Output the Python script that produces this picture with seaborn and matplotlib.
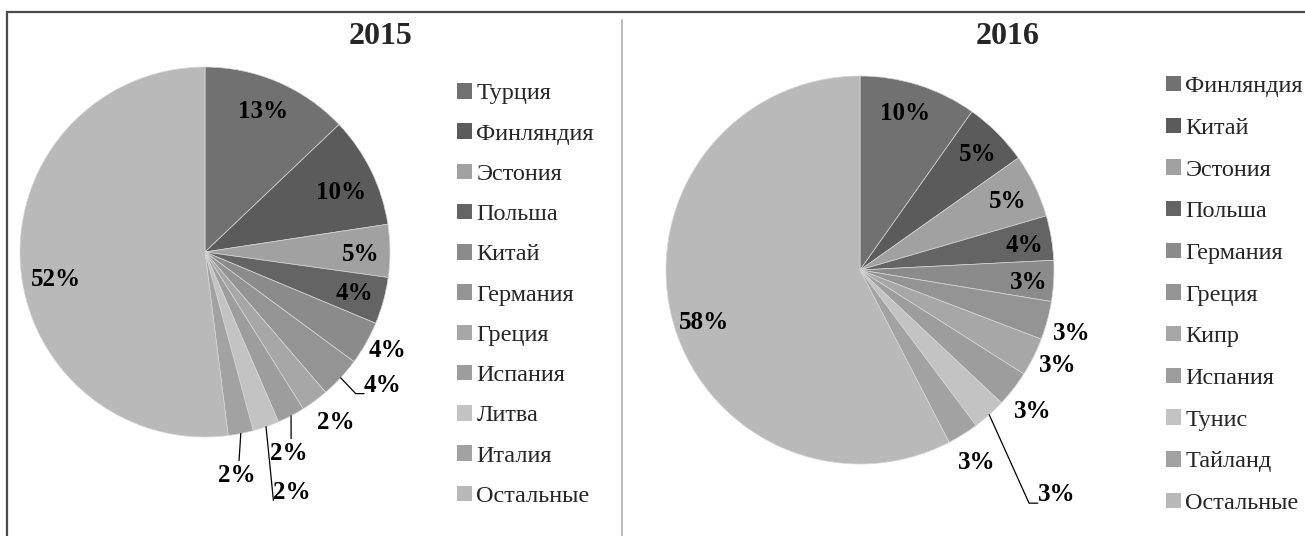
import numpy as np
import matplotlib.pyplot as plt
from matplotlib.lines import Line2D
from matplotlib.patches import Patch
import seaborn as sns

# доли стран, %
countries_2015 = ['Турция', 'Финляндия', 'Эстония', 'Польша', 'Китай', 'Германия',
                  'Греция', 'Испания', 'Литва', 'Италия', 'Остальные']
shares_2015 = [12.9, 9.7, 4.6, 4.1, 3.8, 3.6, 2.4, 2.4, 2.3, 2.2, 52.0]

countries_2016 = ['Финляндия', 'Китай', 'Эстония', 'Польша', 'Германия', 'Греция',
                  'Кипр', 'Испания', 'Тунис', 'Тайланд', 'Остальные']
shares_2016 = [9.8, 5.4, 5.3, 3.7, 3.4, 3.2, 3.2, 3.0, 2.8, 2.6, 57.6]

years = ['2015', '2016']

greys = ['#717171', '#5b5b5b', '#a1a1a1', '#646464', '#8b8b8b', '#949494',
         '#a7a7a7', '#9d9d9d', '#c3c3c3', '#a2a2a2', '#b9b9b9']

# расположение подписей: угол (по часовой от верха), радиус, выноска
lab_2015 = [(22.5, .82, None), (66.4, .80, None), (91, .84, None), (105.3, .84, None),
            (118.3, 1.12, None), (126.9, 1.20, 'elbow'), (142.6, 1.16, None),
            (157.3, 1.18, 'top'), (160.1, 1.38, 'side'), (171.8, 1.22, 'top'),
            (259.4, .82, None)]
lab_2016 = [(16, .84, None), (45.5, .85, None), (65.3, .84, None), (81.4, .86, None),
            (94.1, .87, None), (106.6, 1.14, None), (115.7, 1.13, None),
            (129.4, 1.15, None), (138.7, 1.54, 'elbow'), (148.6, 1.16, None),
            (251.6, .85, None)]

sns.set_theme(style='white')
plt.rcParams['font.family'] = ['Liberation Serif', 'DejaVu Serif']

W, H = 1305, 536
fig = plt.figure(figsize=(W / 100, H / 100), dpi=100)
pal = sns.color_palette(greys)


def draw_pie(cx, cy, r, shares, names, layout, year, title_x, legend_x, spacing):
    ax = fig.add_axes([(cx - r) / W, (H - cy - r) / H, 2 * r / W, 2 * r / H])
    wedges, _ = ax.pie(shares, colors=pal, startangle=90, counterclock=False,
                       wedgeprops=dict(edgecolor='#d6d6d6', linewidth=0.5))
    ax.set_xlim(-1, 1)
    ax.set_ylim(-1, 1)
    ax.set_aspect('equal')
    ax.axis('off')
    total = sum(shares)
    for w, v, (ang, rad, lead) in zip(wedges, shares, layout):
        a = np.deg2rad(ang)
        lx, ly = rad * np.sin(a), rad * np.cos(a)
        ax.text(lx, ly, f'{round(v / total * 100)}%', ha='center', va='center',
                fontsize=18, fontweight='bold', color='black', clip_on=False)
        if lead:
            m = np.deg2rad((w.theta1 + w.theta2) / 2)
            sx, sy = np.cos(m), np.sin(m)
            if lead == 'top':
                xs, ys = [sx, lx + 0.01], [sy, ly + 0.08]
            elif lead == 'side':
                xs, ys = [sx, lx - 0.10], [sy, ly - 0.045]
            else:
                ex, ey = lx - 0.10, ly - 0.045
                xs, ys = [sx, ex - 0.045, ex], [sy, ey, ey]
            ax.plot(xs, ys, color='black', lw=0.9, clip_on=False)
    fig.text(title_x / W, 1 - 36 / H, year, ha='center', va='center',
             fontsize=23, fontweight='bold')
    handles = [Patch(facecolor=c, edgecolor='none') for c in pal]
    fig.legend(handles, names, loc='center left',
               bbox_to_anchor=(legend_x / W, 1 - 295 / H),
               bbox_transform=fig.transFigure, frameon=False, fontsize=17.5,
               handlelength=0.6, handleheight=0.6, handletextpad=0.2,
               labelspacing=spacing, borderpad=0, borderaxespad=0)


draw_pie(205, 252, 185, shares_2015, countries_2015, lab_2015, years[0], 380, 457, 0.78)
draw_pie(860, 270, 194, shares_2016, countries_2016, lab_2016, years[1], 1008, 1166, 0.84)

# рамка и разделитель
fig.add_artist(Line2D([7 / W, 1], [1 - 12 / H, 1 - 12 / H], color='#4a4a4a', lw=1.6))
fig.add_artist(Line2D([7 / W, 7 / W], [0, 1 - 12 / H], color='#4a4a4a', lw=1.6))
fig.add_artist(Line2D([622 / W, 622 / W], [0, 1 - 20 / H], color='#b0b0b0', lw=1.2))

fig.savefig('out.png', dpi=100)
